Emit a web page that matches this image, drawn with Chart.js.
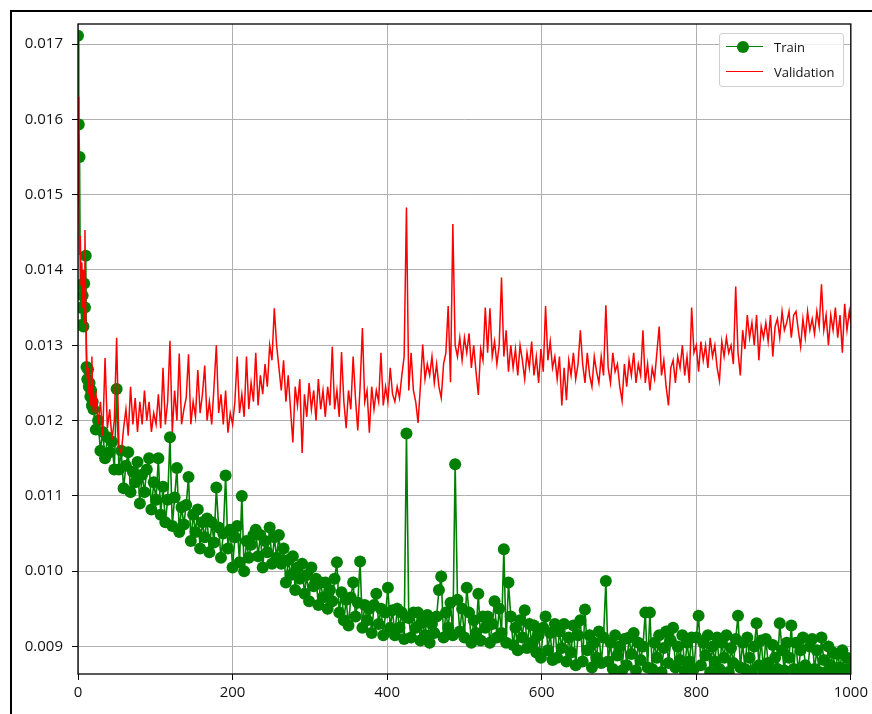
<!DOCTYPE html>
<html>
<head>
<meta charset="utf-8">
<script src="https://cdn.jsdelivr.net/npm/chart.js@4.4.1/dist/chart.umd.min.js"></script>
<style>
  html, body { margin: 0; padding: 0; background: #fff; }
  #wrap { position: relative; width: 872px; height: 714px; overflow: hidden; }
  #frame { position: absolute; left: 10px; top: 10px; width: 900px; height: 760px; border-left: 2px solid #000; border-top: 2px solid #000; }
  #lossChart { position: absolute; left: 0; top: 0; }
  #legend { position: absolute; left: 719px; top: 33px; width: 125px; height: 54px; box-sizing: border-box;
            border: 1px solid #d0d0d0; border-radius: 3px; background: rgba(255,255,255,0.85);
            font-family: 'Open Sans', sans-serif; font-size: 13px; color: #111; }
  .row { position: absolute; left: 0; width: 100%; height: 20px; }
  .swatch { position: absolute; left: 6px; top: 9px; width: 37px; height: 0; border-top: 1.6px solid; }
  .dot { position: absolute; left: 17px; top: 4px; width: 12px; height: 12px; border-radius: 50%; background: green; }
  .lbl { position: absolute; left: 54px; top: 0; line-height: 20px; }
</style>
</head>
<body>
<div id="wrap">
  <div id="frame"></div>
  <canvas id="lossChart" width="872" height="714"></canvas>
  <div id="legend">
    <div class="row" style="top:3px"><div class="swatch" style="border-color:green"></div><div class="dot"></div><div class="lbl">Train</div></div>
    <div class="row" style="top:28px"><div class="swatch" style="border-color:red;border-top-width:1.5px"></div><div class="lbl">Validation</div></div>
  </div>
</div>
<script>
// epochs: every epoch at the start, then every 3
const epochs = [
  0, 1, 2, 3, 4, 5, 6, 7, 8, 9,
  10, 11, 12, 13, 14, 15, 16, 17, 18, 19,
  20, 23, 26, 29, 32, 35, 38, 41, 44, 47,
  50, 53, 56, 59, 62, 65, 68, 71, 74, 77,
  80, 83, 86, 89, 92, 95, 98, 101, 104, 107,
  110, 113, 116, 119, 122, 125, 128, 131, 134, 137,
  140, 143, 146, 149, 152, 155, 158, 161, 164, 167,
  170, 173, 176, 179, 182, 185, 188, 191, 194, 197,
  200, 203, 206, 209, 212, 215, 218, 221, 224, 227,
  230, 233, 236, 239, 242, 245, 248, 251, 254, 257,
  260, 263, 266, 269, 272, 275, 278, 281, 284, 287,
  290, 293, 296, 299, 302, 305, 308, 311, 314, 317,
  320, 323, 326, 329, 332, 335, 338, 341, 344, 347,
  350, 353, 356, 359, 362, 365, 368, 371, 374, 377,
  380, 383, 386, 389, 392, 395, 398, 401, 404, 407,
  410, 413, 416, 419, 422, 425, 428, 431, 434, 437,
  440, 443, 446, 449, 452, 455, 458, 461, 464, 467,
  470, 473, 476, 479, 482, 485, 488, 491, 494, 497,
  500, 503, 506, 509, 512, 515, 518, 521, 524, 527,
  530, 533, 536, 539, 542, 545, 548, 551, 554, 557,
  560, 563, 566, 569, 572, 575, 578, 581, 584, 587,
  590, 593, 596, 599, 602, 605, 608, 611, 614, 617,
  620, 623, 626, 629, 632, 635, 638, 641, 644, 647,
  650, 653, 656, 659, 662, 665, 668, 671, 674, 677,
  680, 683, 686, 689, 692, 695, 698, 701, 704, 707,
  710, 713, 716, 719, 722, 725, 728, 731, 734, 737,
  740, 743, 746, 749, 752, 755, 758, 761, 764, 767,
  770, 773, 776, 779, 782, 785, 788, 791, 794, 797,
  800, 803, 806, 809, 812, 815, 818, 821, 824, 827,
  830, 833, 836, 839, 842, 845, 848, 851, 854, 857,
  860, 863, 866, 869, 872, 875, 878, 881, 884, 887,
  890, 893, 896, 899, 902, 905, 908, 911, 914, 917,
  920, 923, 926, 929, 932, 935, 938, 941, 944, 947,
  950, 953, 956, 959, 962, 965, 968, 971, 974, 977,
  980, 983, 986, 989, 992, 995, 998, 1000
];

const trainLoss = [
  0.01711, 0.01593, 0.01550, 0.01380, 0.01350, 0.01327, 0.01366, 0.01325, 0.01382, 0.01350,
  0.01419, 0.01271, 0.01255, 0.01268, 0.01245, 0.01250, 0.01232, 0.01240, 0.01220, 0.01225,
  0.01215, 0.01188, 0.01200, 0.01160, 0.01185, 0.01150, 0.01178, 0.01158, 0.01172, 0.01135,
  0.01242, 0.01135, 0.01160, 0.01110, 0.01140, 0.01158, 0.01105, 0.01132, 0.01118, 0.01145,
  0.01090, 0.01128, 0.01105, 0.01135, 0.01150, 0.01082, 0.01118, 0.01095, 0.01150, 0.01075,
  0.01112, 0.01065, 0.01095, 0.01178, 0.01060, 0.01098, 0.01137, 0.01052, 0.01085, 0.01062,
  0.01088, 0.01125, 0.01040, 0.01075, 0.01052, 0.01082, 0.01030, 0.01065, 0.01045, 0.01070,
  0.01025, 0.01065, 0.01038, 0.01111, 0.01058, 0.01018, 0.01050, 0.01127, 0.01030, 0.01055,
  0.01005, 0.01045, 0.01060, 0.01012, 0.01100, 0.01000, 0.01040, 0.01018, 0.01035, 0.01048,
  0.01055, 0.01020, 0.01048, 0.01005, 0.01040, 0.01025, 0.01058, 0.01010, 0.01045, 0.01018,
  0.01048, 0.01010, 0.01030, 0.00985, 0.01015, 0.00995, 0.01020, 0.00975, 0.01005, 0.00990,
  0.01010, 0.00970, 0.00995, 0.00960, 0.01005, 0.00980, 0.00990, 0.00955, 0.00985, 0.00965,
  0.00985, 0.00950, 0.00975, 0.00960, 0.00990, 0.01012, 0.00945, 0.00972, 0.00935, 0.00962,
  0.00928, 0.00965, 0.00985, 0.00940, 0.00958, 0.01013, 0.00925, 0.00955, 0.00935, 0.00950,
  0.00918, 0.00955, 0.00970, 0.00930, 0.00950, 0.00915, 0.00945, 0.00978, 0.00925, 0.00948,
  0.00915, 0.00950, 0.00925, 0.00945, 0.00910, 0.01183, 0.00938, 0.00912, 0.00945, 0.00925,
  0.00945, 0.00908, 0.00932, 0.00915, 0.00942, 0.00905, 0.00930, 0.00918, 0.00940, 0.00975,
  0.00993, 0.00912, 0.00945, 0.00925, 0.00958, 0.00915, 0.01142, 0.00962, 0.00920, 0.00950,
  0.00912, 0.00978, 0.00945, 0.00905, 0.00935, 0.00918, 0.00970, 0.00908, 0.00940, 0.00925,
  0.00940, 0.00905, 0.00930, 0.00960, 0.00912, 0.00950, 0.00918, 0.01029, 0.00905, 0.00985,
  0.00940, 0.00902, 0.00925, 0.00895, 0.00935, 0.00912, 0.00948, 0.00898, 0.00930, 0.00905,
  0.00928, 0.00892, 0.00915, 0.00885, 0.00925, 0.00940, 0.00895, 0.00918, 0.00882, 0.00930,
  0.00885, 0.00920, 0.00898, 0.00930, 0.00880, 0.00912, 0.00892, 0.00928, 0.00875, 0.00915,
  0.00935, 0.00880, 0.00949, 0.00895, 0.00915, 0.00872, 0.00905, 0.00885, 0.00920, 0.00878,
  0.00912, 0.00987, 0.00880, 0.00905, 0.00870, 0.00915, 0.00888, 0.00900, 0.00868, 0.00910,
  0.00875, 0.00912, 0.00890, 0.00918, 0.00868, 0.00905, 0.00882, 0.00900, 0.00945, 0.00872,
  0.00945, 0.00870, 0.00905, 0.00885, 0.00915, 0.00866, 0.00898, 0.00920, 0.00878, 0.00908,
  0.00925, 0.00872, 0.00900, 0.00882, 0.00915, 0.00868, 0.00905, 0.00880, 0.00912, 0.00870,
  0.00912, 0.00941, 0.00875, 0.00905, 0.00888, 0.00915, 0.00866, 0.00900, 0.00880, 0.00912,
  0.00870, 0.00905, 0.00885, 0.00915, 0.00866, 0.00898, 0.00878, 0.00910, 0.00941, 0.00872,
  0.00905, 0.00870, 0.00912, 0.00885, 0.00866, 0.00900, 0.00931, 0.00875, 0.00908, 0.00868,
  0.00910, 0.00878, 0.00866, 0.00902, 0.00885, 0.00870, 0.00931, 0.00895, 0.00868, 0.00905,
  0.00885, 0.00928, 0.00870, 0.00905, 0.00866, 0.00895, 0.00912, 0.00875, 0.00866, 0.00900,
  0.00910, 0.00870, 0.00895, 0.00866, 0.00912, 0.00882, 0.00866, 0.00900, 0.00875, 0.00892,
  0.00866, 0.00890, 0.00872, 0.00895, 0.00866, 0.00885, 0.00870, 0.00868
];

const valLoss = [
  0.01630, 0.01500, 0.01420, 0.01445, 0.01380, 0.01410, 0.01350, 0.01400, 0.01330, 0.01453,
  0.01340, 0.01290, 0.01255, 0.01270, 0.01235, 0.01260, 0.01220, 0.01245, 0.01285, 0.01230,
  0.01210, 0.01240, 0.01195, 0.01225, 0.01180, 0.01283, 0.01190, 0.01215, 0.01175, 0.01200,
  0.01310, 0.01165, 0.01157, 0.01190, 0.01215, 0.01180, 0.01245, 0.01195, 0.01230, 0.01185,
  0.01225, 0.01195, 0.01240, 0.01200, 0.01225, 0.01185, 0.01210, 0.01195, 0.01235, 0.01190,
  0.01270, 0.01195, 0.01225, 0.01306, 0.01185, 0.01240, 0.01200, 0.01289, 0.01195, 0.01215,
  0.01230, 0.01288, 0.01195, 0.01225, 0.01205, 0.01267, 0.01210, 0.01235, 0.01273, 0.01200,
  0.01225, 0.01195, 0.01245, 0.01300, 0.01210, 0.01235, 0.01195, 0.01240, 0.01184, 0.01210,
  0.01195, 0.01225, 0.01285, 0.01210, 0.01235, 0.01205, 0.01285, 0.01215, 0.01250, 0.01225,
  0.01290, 0.01220, 0.01260, 0.01235, 0.01275, 0.01245, 0.01300, 0.01280, 0.01349, 0.01300,
  0.01270, 0.01240, 0.01280, 0.01225, 0.01260, 0.01215, 0.01171, 0.01245, 0.01220, 0.01255,
  0.01157, 0.01235, 0.01205, 0.01250, 0.01215, 0.01240, 0.01200, 0.01255, 0.01215, 0.01240,
  0.01205, 0.01245, 0.01220, 0.01298, 0.01215, 0.01240, 0.01205, 0.01291, 0.01225, 0.01190,
  0.01240, 0.01215, 0.01285, 0.01230, 0.01187, 0.01245, 0.01323, 0.01225, 0.01240, 0.01184,
  0.01245, 0.01215, 0.01240, 0.01225, 0.01290, 0.01220, 0.01245, 0.01225, 0.01270, 0.01235,
  0.01225, 0.01245, 0.01230, 0.01260, 0.01285, 0.01483, 0.01240, 0.01290, 0.01240, 0.01225,
  0.01197, 0.01245, 0.01301, 0.01255, 0.01275, 0.01260, 0.01285, 0.01250, 0.01275, 0.01245,
  0.01230, 0.01275, 0.01290, 0.01352, 0.01251, 0.01461, 0.01300, 0.01285, 0.01310, 0.01280,
  0.01310, 0.01290, 0.01316, 0.01270, 0.01300, 0.01265, 0.01234, 0.01295, 0.01280, 0.01350,
  0.01290, 0.01349, 0.01285, 0.01305, 0.01275, 0.01300, 0.01390, 0.01285, 0.01320, 0.01265,
  0.01300, 0.01270, 0.01295, 0.01260, 0.01300, 0.01280, 0.01255, 0.01290, 0.01270, 0.01305,
  0.01260, 0.01285, 0.01250, 0.01295, 0.01265, 0.01352, 0.01280, 0.01305, 0.01270, 0.01285,
  0.01255, 0.01285, 0.01220, 0.01270, 0.01227, 0.01280, 0.01260, 0.01290, 0.01255, 0.01275,
  0.01320, 0.01275, 0.01250, 0.01290, 0.01260, 0.01245, 0.01285, 0.01265, 0.01250, 0.01285,
  0.01260, 0.01353, 0.01270, 0.01250, 0.01290, 0.01265, 0.01275, 0.01245, 0.01226, 0.01275,
  0.01245, 0.01280, 0.01260, 0.01290, 0.01250, 0.01275, 0.01260, 0.01320, 0.01250, 0.01275,
  0.01240, 0.01270, 0.01255, 0.01290, 0.01325, 0.01260, 0.01280, 0.01245, 0.01220, 0.01270,
  0.01280, 0.01250, 0.01285, 0.01270, 0.01300, 0.01260, 0.01285, 0.01250, 0.01350, 0.01290,
  0.01300, 0.01265, 0.01305, 0.01280, 0.01300, 0.01270, 0.01310, 0.01285, 0.01300, 0.01270,
  0.01253, 0.01305, 0.01285, 0.01310, 0.01290, 0.01300, 0.01275, 0.01378, 0.01290, 0.01260,
  0.01320, 0.01295, 0.01340, 0.01310, 0.01330, 0.01300, 0.01340, 0.01280, 0.01325, 0.01310,
  0.01330, 0.01305, 0.01340, 0.01285, 0.01325, 0.01335, 0.01310, 0.01345, 0.01320, 0.01330,
  0.01345, 0.01310, 0.01340, 0.01345, 0.01320, 0.01298, 0.01335, 0.01310, 0.01345, 0.01320,
  0.01335, 0.01315, 0.01345, 0.01325, 0.01381, 0.01320, 0.01340, 0.01300, 0.01340, 0.01320,
  0.01350, 0.01310, 0.01340, 0.01290, 0.01355, 0.01320, 0.01345, 0.01330
];

const xTicks = [0, 200, 400, 600, 800, 1000];
const yTicks = [0.009, 0.010, 0.011, 0.012, 0.013, 0.014, 0.015, 0.016, 0.017];

const toPoints = (vals) => vals.map((v, i) => ({ x: epochs[i], y: v }));

// matplotlib-style box round the axes
const spines = {
  id: 'spines',
  afterDatasetsDraw(chart) {
    const { ctx, chartArea: a } = chart;
    ctx.save();
    ctx.strokeStyle = '#000';
    ctx.lineWidth = 1.3;
    ctx.strokeRect(a.left, a.top, a.right - a.left, a.bottom - a.top);
    ctx.restore();
  }
};

Chart.defaults.font.family = "'Open Sans', sans-serif";
Chart.defaults.font.size = 15;
Chart.defaults.color = '#111';

const ctx = document.getElementById('lossChart').getContext('2d');
new Chart(ctx, {
  type: 'line',
  data: {
    datasets: [{
      label: 'Train',
      data: toPoints(trainLoss),
      borderColor: 'green',
      borderWidth: 1.6,
      pointRadius: 6,
      pointBackgroundColor: 'green',
      pointBorderWidth: 0,
      tension: 0,
      order: 1
    }, {
      label: 'Validation',
      data: toPoints(valLoss),
      borderColor: '#ff0000',
      borderWidth: 1.5,
      pointRadius: 0,
      tension: 0,
      order: 0
    }]
  },
  options: {
    responsive: false,
    animation: false,
    layout: { padding: { top: 24, right: 19, left: 0, bottom: 0 } },
    plugins: {
      legend: { display: false },
      tooltip: { enabled: false }
    },
    scales: {
      x: {
        type: 'linear',
        min: 0,
        max: 1000,
        afterBuildTicks: (s) => { s.ticks = xTicks.map(v => ({ value: v })); },
        afterFit: (s) => { s.height = 40; },
        grid: { color: '#b0b0b0', tickColor: '#000', tickLength: 6 },
        border: { display: false },
        ticks: { padding: 4, maxRotation: 0, autoSkip: false, callback: (v) => String(v) }
      },
      y: {
        min: 0.008635,
        max: 0.017266,
        afterBuildTicks: (s) => { s.ticks = yTicks.map(v => ({ value: v })); },
        afterFit: (s) => { s.width = 78; },
        grid: { color: '#b0b0b0', tickColor: '#000', tickLength: 6 },
        border: { display: false },
        ticks: { padding: 9, autoSkip: false, callback: (v) => v.toFixed(3) }
      }
    }
  },
  plugins: [spines]
});
</script>
</body>
</html>
